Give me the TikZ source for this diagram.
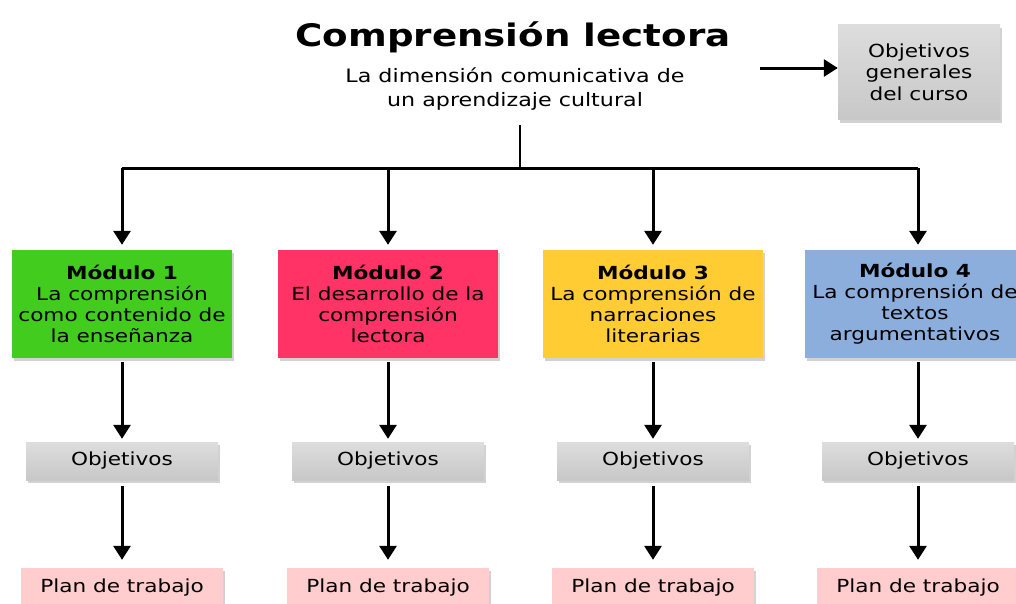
\documentclass[tikz,border=0pt]{standalone}
\usepackage{fontspec}
\setmainfont{DejaVu Sans}[FakeStretch=1.2]
\usetikzlibrary{arrows.meta,shadows,positioning}
\definecolor{verde}{RGB}{66,204,30}
\definecolor{rosa}{RGB}{255,51,102}
\definecolor{amarillo}{RGB}{255,204,51}
\definecolor{azul}{RGB}{140,174,220}
\definecolor{gris}{RGB}{210,210,210}
\definecolor{rosaclaro}{RGB}{255,205,205}
\tikzset{
	sombra/.style={drop shadow={shadow xshift=2pt,shadow yshift=-3pt,opacity=.35}},
	modbox/.style={sombra,minimum width=220pt,minimum height=108pt,align=center,inner sep=0pt,font=\fontsize{18}{21}\selectfont},
	grisbox/.style={sombra,top color=gris!75,bottom color=gris!95!black,align=center,inner sep=0pt,font=\fontsize{18}{21.5}\selectfont},
	planbox/.style={sombra,fill=rosaclaro,minimum width=202pt,minimum height=40pt,inner sep=0pt,font=\fontsize{18}{21}\selectfont},
	flecha/.style={line width=3pt,-{Triangle[length=14pt,width=17pt]}}
}
\begin{document}
\begin{tikzpicture}[x=1pt,y=-1pt]
	\useasboundingbox (0,0) rectangle (1016,603);
	\clip (0,0) rectangle (1016,603);
	\fill[white] (0,0) rectangle (1016,603);
	% title
	\node[font=\fontsize{31}{36}\selectfont\bfseries] (titulo) at (513,37) {Comprensión lectora};
	\node[align=center,font=\fontsize{18.5}{24}\selectfont] (sub) at (515,89) {La dimensión comunicativa de\\un aprendizaje cultural};
	\node[grisbox,minimum width=162pt,minimum height=95pt] (general) at (919,72) {Objetivos\\generales\\del curso};
	\coordinate (inicio) at (760,68);
	\draw[flecha] (inicio) -- (general.west |- inicio);
	% modules
	\node[modbox,fill=verde] (m1) at (122,304) {\textbf{Módulo 1}\\La comprensión\\como contenido de\\la enseñanza};
	\node[modbox,fill=rosa] (m2) at (388,304) {\textbf{Módulo 2}\\El desarrollo de la\\comprensión\\lectora};
	\node[modbox,fill=amarillo] (m3) at (653,304) {\textbf{Módulo 3}\\La comprensión de\\narraciones\\literarias};
	\node[modbox,fill=azul] (m4) at (915,304) {\textbf{Módulo 4}\\La comprensión de\\textos\\argumentativos};
	\coordinate (bus) at (520,168);
	\draw[line width=2pt] (520,125) -- (bus);
	\draw[line width=3pt] (m1.north |- bus) -- (918,168);
	\foreach \i/\x in {1/122,2/388,3/653,4/918}{
		\node[grisbox,minimum width=192pt,minimum height=38pt] (obj\i) at (\x,461) {Objetivos};
		\node[planbox] (plan\i) at (\x,588) {Plan de trabajo};
		\draw[flecha] (obj\i |- bus) -- ([yshift=5pt]m\i.north -| obj\i);
		\draw[flecha] ([yshift=-4pt]m\i.south -| obj\i) -- ([yshift=3pt]obj\i.north);
		\draw[flecha] ([yshift=-6pt]obj\i.south) -- ([yshift=8pt]plan\i.north);
	}
\end{tikzpicture}
\end{document}
